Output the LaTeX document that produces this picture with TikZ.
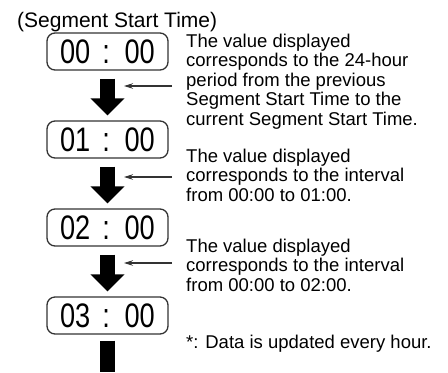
\documentclass[tikz,border=0pt]{standalone}
\usepackage{fontspec}
\setmainfont{Liberation Sans}
\newfontfamily\digitfont[FakeStretch=0.8,WordSpace=1.6]{Liberation Sans}
\usetikzlibrary{arrows.meta}
\begin{document}
\begin{tikzpicture}[x=1bp,y=-1bp,
  timebox/.style={draw=black!80, line width=1.3bp, rounded corners=8bp,
    minimum width=121bp, minimum height=37bp, inner sep=0pt,
    font=\digitfont\fontsize{34bp}{34bp}\selectfont},
  note/.style={anchor=base west, align=left, inner sep=0pt,
    font=\fontsize{18.5bp}{19.5bp}\selectfont},
  bigarrow/.style={line width=15bp, -{Triangle[width=33bp,length=17bp]},
    shorten <=8bp, shorten >=5bp},
  bigbar/.style={line width=15bp, shorten <=6bp},
  pointer/.style={line width=1.1bp, draw=black!80, -{Stealth[length=9bp,width=5.5bp]}}
]
\useasboundingbox (0,0) rectangle (448,372);

\node[anchor=base west, inner sep=0pt, font=\fontsize{21bp}{23bp}\selectfont]
  (hdr) at (17,27) {(Segment Start Time)};

\node[timebox] (t0) at (107.5,51.5) {00 : 00};
\node[timebox] (t1) at (107.5,139.5) {01 : 00};
\node[timebox] (t2) at (107.5,227.5) {02 : 00};
\node[timebox] (t3) at (107.5,315.5) {03 : 00};

\draw[bigarrow] (t0) -- (t1);
\draw[bigarrow] (t1) -- (t2);
\draw[bigarrow] (t2) -- (t3);
\coordinate (bot) at (107.5,372);
\draw[bigbar] (t3) -- (bot);

\coordinate (s1) at (172,86);  \coordinate (e1) at (124,86);
\coordinate (s2) at (172,177); \coordinate (e2) at (124,177);
\coordinate (s3) at (172,263); \coordinate (e3) at (124,263);
\draw[pointer] (s1) -- (e1);
\draw[pointer] (s2) -- (e2);
\draw[pointer] (s3) -- (e3);

% base anchor of a multi-line node is the baseline of its last line
\node[note] (n1) at (186,125) {The value displayed\\corresponds to the 24-hour\\period from the previous\\Segment Start Time to the\\current Segment Start Time.};
\node[note] (n2) at (186,201) {The value displayed\\corresponds to the interval\\from 00:00 to 01:00.};
\node[note] (n3) at (186,291) {The value displayed\\corresponds to the interval\\from 00:00 to 02:00.};
\node[note] (n4) at (186,348) {*: Data is updated every hour.};
\end{tikzpicture}
\end{document}
